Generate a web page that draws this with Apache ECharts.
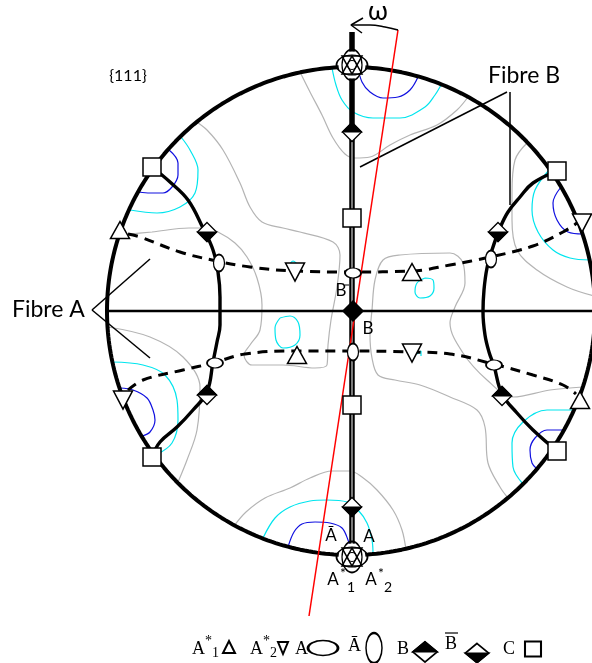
<!DOCTYPE html>
<html><head><meta charset="utf-8">
<script src="https://cdn.jsdelivr.net/npm/echarts/dist/echarts.min.js"></script>
<style>html,body{margin:0;padding:0;background:#fff}#c{width:592px;height:663px}</style>
</head><body><div id="c"></div>
<script>
// ---- Pole figure geometry (picture units) ----
const CENTER = [351, 311];
const RADIUS = 244;

// ---- Orientation positions ----
const posC      = [[152,167],[152,457],[557,171],[557,451],[352,218],[352,405]];
const posA1     = [[120,230],[297,355],[412,272],[580,400]];           // up triangles
const posA2     = [[123,400],[295,272],[412,353],[582,223]];           // down triangles
const posA      = [[353,273],[215,363],[494,365]];                     // horizontal ellipses
const posAbar   = [[353,352],[219,263],[491,259]];                     // vertical ellipses
const posB      = [[352,132],[207,395],[502,396]];                     // diamond, top black
const posBbar   = [[352,507],[207,232],[498,232]];                     // diamond, bottom black
const posBBbar  = [[353,311]];                                         // full black diamond
const posStar   = [[352,65],[352,557]];                                // A,Ā,A*1,A*2 together

// ---- Fibres ----
const fibreH     = [[107,311],[592,311]];
const fibreV     = [[352,32],[352,560]];
const fibreVIn   = [[352,142],[352,548]];
const arcLeft    = [[152,167],[170,182],[188,200],[203,228],[213,250],[218,272],[220,297],[220,325],[217,342],[213,362],[207,392],[193,410],[177,427],[160,442],[152,457]];
const arcRight   = [[557,171],[533,183],[520,197],[508,212],[500,228],[492,250],[487,268],[484,290],[483,312],[485,335],[489,352],[494,366],[502,394],[517,413],[533,430],[557,451]];
const dashUpper  = [[128,234],[140,237],[180,252],[212,260],[250,267],[295,271],[353,272],[412,271],[450,265],[490,257],[533,246],[563,232],[577,223]];
const dashLower  = [[128,390],[143,380],[183,370],[213,363],[245,354],[295,351],[353,351],[412,352],[450,354],[493,364],[533,375],[563,385],[576,394]];

// ---- Rotation axis and annotations ----
const redAxis    = [[398,30],[309,616]];
const omegaArc   = [[398,30],[385,27],[370,25],[351,25]];
const omegaHead1 = [[363,18],[351,25],[362,33]];
const fibreAPtr1 = [[92,310],[150,259]];
const fibreAPtr2 = [[92,310],[150,358]];
const fibreBPtr1 = [[507,92],[360,167]];
const fibreBPtr2 = [[510,92],[510,205]];

// ---- Intensity contours ----
const grayLines = [
  [[300,72],[310,92],[322,115],[333,138],[345,154],[355,158],[370,157],[390,145],[410,135],[437,125],[457,110],[468,97]],
  [[406,550],[402,530],[393,510],[377,490],[362,477],[350,471],[332,471],[310,478],[290,488],[265,498],[246,512],[234,526]],
  [[120,235],[152,232],[189,228],[205,228],[218,232],[235,243],[247,257],[257,278],[262,305],[260,330],[250,345],[244,355],[252,365],[283,365],[315,368],[327,365],[328,345],[331,320],[337,287],[340,255],[333,242],[300,232],[283,228],[262,222],[250,207],[240,183],[223,150],[207,130],[195,121]],
  [[583,387],[550,390],[513,397],[487,380],[463,353],[450,323],[455,307],[465,283],[463,263],[450,253],[400,255],[383,260],[375,280],[372,310],[370,335],[372,358],[378,375],[395,380],[420,385],[450,397],[477,410],[485,427],[488,463],[500,487],[508,498]],
  [[528,142],[515,160],[512,193],[512,220],[517,250],[537,270],[567,287],[594,296]],
  [[108,327],[150,337],[183,357],[200,387],[197,430],[187,460],[178,482]]
];
const cyanLines = [
  [[332,68],[336,85],[342,100],[353,112],[373,118],[400,118],[425,107],[435,95],[441,85]],
  [[263,538],[275,518],[290,507],[310,501],[327,500],[347,502],[358,510],[367,523],[372,540],[373,553]],
  [[181,137],[190,150],[198,170],[195,193],[180,207],[157,213],[130,210]],
  [[112,362],[143,365],[165,375],[177,400],[178,420],[172,443],[156,455]],
  [[549,170],[535,190],[532,210],[538,232],[553,250],[570,258],[590,260]],
  [[574,410],[547,410],[523,422],[512,443],[513,467],[523,484]],
  [[280,318],[290,316],[298,322],[300,335],[295,345],[283,348],[276,340],[275,328],[280,318]],
  [[425,278],[433,280],[434,288],[430,296],[420,298],[415,292],[417,283],[425,278]],
  [[290,264],[293,261],[297,264]],
  [[417,354],[421,351],[421,356]]
];
const blueLines = [
  [[358,67],[362,82],[370,92],[383,98],[398,97],[410,90],[418,77]],
  [[288,547],[294,532],[302,524],[315,522],[330,523],[342,528],[348,540],[351,550]],
  [[168,149],[178,163],[178,175],[172,187],[163,193],[150,193],[139,192]],
  [[120,388],[133,390],[147,398],[153,410],[155,420],[150,432],[142,436]],
  [[561,187],[553,203],[557,220],[568,232],[583,234]],
  [[564,430],[547,430],[535,438],[530,450],[532,463],[537,469]]
];

// ---- Legend keys ----
const legendKeys = {A1:[[229,647]], A2:[[283,648]], A:[[323,648]], Abar:[[374,648]], B:[[425,652]], Bbar:[[477,653]], C:[[533,649]]};

// ---------------------------------------------------------------
const ELL = 'path://M0,50 C0,22.4 22.4,0 50,0 C77.6,0 100,22.4 100,50 C100,77.6 77.6,100 50,100 C22.4,100 0,77.6 0,50 Z';
const TRI_DOWN = 'path://M0,0 L100,0 L50,100 Z';
const NONE = 'rgba(0,0,0,0)';

function outerCircle(){
  const pts=[];
  for(let i=0;i<=360;i++){const a=i*Math.PI/180;pts.push([CENTER[0]+RADIUS*Math.cos(a),CENTER[1]+RADIUS*Math.sin(a)]);}
  return pts;
}
function ln(data,color,width,extra){
  return Object.assign({type:'line',data:data,showSymbol:false,symbol:'none',silent:true,animation:false,
    lineStyle:{color:color,width:width},z:2},extra||{});
}
function sc(data,symbol,size,fill,extra){
  extra=extra||{};
  const is=Object.assign({color:fill,borderColor:'#000',borderWidth:1.5},extra.itemStyle||{},{opacity:1});
  const o=Object.assign({type:'scatter',data:data,symbol:symbol,symbolSize:size,silent:true,animation:false,z:10},extra);
  o.itemStyle=is;
  o.emphasis={disabled:true};
  return o;
}
function halfDiamond(data,size,topBlack,bw,z){
  const w=size[0],h=size[1];
  return [
    sc(data,'diamond',[w,h],'#fff',{z:z,itemStyle:{color:'#fff',borderColor:'#000',borderWidth:bw}}),
    topBlack
      ? sc(data,'triangle',[w,h/2],'#000',{z:z+1,symbolOffset:[0,-h/4],itemStyle:{color:'#000',borderColor:'#000',borderWidth:bw}})
      : sc(data,TRI_DOWN,[w,h/2],'#000',{z:z+1,symbolOffset:[0,h/4],itemStyle:{color:'#000',borderColor:'#000',borderWidth:bw}})
  ];
}

const series=[];
grayLines.forEach(d=>series.push(ln(d,'#b4b4b4',1.2,{smooth:0.35,z:1})));
cyanLines.forEach(d=>series.push(ln(d,'#00e5ee',1.2,{smooth:0.35,z:1})));
blueLines.forEach(d=>series.push(ln(d,'#1010e0',1.2,{smooth:0.35,z:1})));

series.push(ln(outerCircle(),'#000',4,{z:3}));
series.push(ln(fibreH,'#000',2.6,{z:3}));
series.push(ln(arcLeft,'#000',3.4,{smooth:0.4,z:3}));
series.push(ln(arcRight,'#000',3.4,{smooth:0.4,z:3}));
series.push(ln(dashUpper,'#000',3,{smooth:0.4,z:3,lineStyle:{color:'#000',width:3,type:[10,7]}}));
series.push(ln(dashLower,'#000',3,{smooth:0.4,z:3,lineStyle:{color:'#000',width:3,type:[10,7]}}));
series.push(ln(fibreV,'#000',5.5,{z:4}));
series.push(ln(fibreVIn,'#9a9a9a',1.6,{z:4}));
[fibreAPtr1,fibreAPtr2,fibreBPtr1,fibreBPtr2].forEach(d=>series.push(ln(d,'#000',1.5,{z:4})));
series.push(ln(redAxis,'#ff0000',1.5,{z:5}));
series.push(ln(omegaArc,'#000',1.5,{smooth:0.4,z:5}));
series.push(ln(omegaHead1,'#000',1.5,{z:5}));

// pole symbols
series.push(sc(posC,'rect',[18,18],'#fff'));
series.push(sc(posA1,'triangle',[19,17],'#fff'));
series.push(sc(posA2,TRI_DOWN,[19,18],'#fff'));
series.push(sc(posA,ELL,[16,10],'#fff'));
series.push(sc(posAbar,ELL,[11,17],'#fff'));
halfDiamond(posB,[19,19],true,1.3,10).forEach(s=>series.push(s));
halfDiamond(posBbar,[19,19],false,1.3,10).forEach(s=>series.push(s));
series.push(sc(posBBbar,'diamond',[20,20],'#000',{z:11}));
// combined symbol at the poles
series.push(sc(posStar,'circle',27,'#fff',{z:12,itemStyle:{color:'#fff',borderWidth:0}}));
series.push(sc(posStar,ELL,[31,20],NONE,{z:13}));
series.push(sc(posStar,ELL,[20,31],NONE,{z:13}));
series.push(sc(posStar,'triangle',[20,18],NONE,{z:14}));
series.push(sc(posStar,TRI_DOWN,[20,18],NONE,{z:14}));
series.push(sc(posStar,'circle',9,NONE,{z:14,itemStyle:{color:NONE,borderColor:'#000',borderWidth:1.2}}));

// legend keys
const lb={color:'#fff',borderColor:'#000',borderWidth:2};
series.push(sc(legendKeys.A1,'triangle',[12,12],'#fff',{itemStyle:lb}));
series.push(sc(legendKeys.A2,TRI_DOWN,[10,12],'#fff',{itemStyle:lb}));
series.push(sc(legendKeys.A,ELL,[30,15],'#fff',{itemStyle:lb}));
series.push(sc(legendKeys.Abar,ELL,[16,30],'#fff',{itemStyle:lb}));
halfDiamond(legendKeys.B,[24,20],true,1.8,10).forEach(s=>series.push(s));
halfDiamond(legendKeys.Bbar,[23,19],false,1.8,10).forEach(s=>series.push(s));
series.push(sc(legendKeys.C,'rect',[16,15],'#fff',{itemStyle:lb}));

function txt(x,y,s,size,family,align,extra){
  return Object.assign({type:'text',x:x,y:y,silent:true,z:50,
    style:{text:s,fontSize:size,fontFamily:family,fill:'#000',
      align:align||'center',verticalAlign:'middle',textAlign:align||'center',textVerticalAlign:'middle'}},extra||{});
}
const SANS='Lato', SERIF='"Liberation Serif", serif';
const graphic=[
  txt(128,76,'{111}',16,SANS),
  txt(488,76,'Fibre B',23,SANS,'left'),
  txt(12,310,'Fibre A',23,SANS,'left'),
  txt(378,12,'ω',26,SANS),
  txt(341,291,'B',17,SANS),
  {type:'line',silent:true,z:50,shape:{x1:345,y1:285,x2:349,y2:285},style:{stroke:'#000',lineWidth:1}},
  txt(368,329,'B',17,SANS),
  txt(331,536,'Ā',17,SANS),
  txt(369,537,'A',17,SANS),
  txt(333,580,'A',17,SANS), txt(343,573,'*',14,SANS), txt(351,587,'1',14,SANS),
  txt(371,580,'A',17,SANS), txt(381,573,'*',14,SANS), txt(388,587,'2',14,SANS),
  // legend text
  txt(192,649,'A',18,SERIF,'left'), txt(205,641,'*',14,SERIF,'left'), txt(212,653,'1',14,SERIF,'left'),
  txt(250,649,'A',18,SERIF,'left'), txt(263,641,'*',14,SERIF,'left'), txt(270,653,'2',14,SERIF,'left'),
  txt(295,649,'A',18,SERIF,'left'),
  txt(348,646,'Ā',18,SERIF,'left'),
  txt(397,649,'B',18,SERIF,'left'),
  txt(445,644,'B',18,SERIF,'left'),
  {type:'line',silent:true,z:50,shape:{x1:445,y1:633,x2:458,y2:633},style:{stroke:'#000',lineWidth:1.2}},
  txt(503,649,'C',18,SERIF,'left')
];

const chart=echarts.init(document.getElementById('c'),null,{renderer:'canvas'});
chart.setOption({
  animation:false,
  backgroundColor:'#fff',
  grid:{left:0,right:0,top:0,bottom:0},
  xAxis:{type:'value',min:0,max:592,show:false},
  yAxis:{type:'value',min:0,max:663,inverse:true,show:false},
  series:series,
  graphic:graphic
});
</script></body></html>
